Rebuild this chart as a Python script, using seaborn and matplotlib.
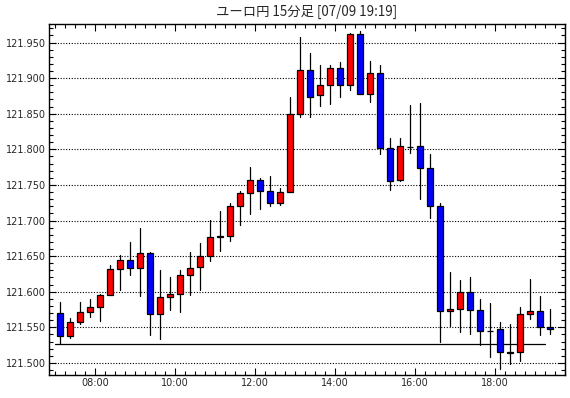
import pandas as pd
import numpy as np
import matplotlib
matplotlib.use('Agg')
import matplotlib.pyplot as plt
from matplotlib.ticker import MultipleLocator, FixedLocator, FuncFormatter
import seaborn as sns

# 15分足 ユーロ円 07:00 - 19:15
times = pd.date_range('2024-07-09 07:00', periods=50, freq='15min')

opens = [121.570, 121.538, 121.557, 121.571, 121.578, 121.595, 121.632, 121.645, 121.633, 121.655,
         121.569, 121.593, 121.597, 121.624, 121.635, 121.650, 121.677, 121.678, 121.721, 121.739,
         121.757, 121.742, 121.724, 121.740, 121.850, 121.912, 121.876, 121.891, 121.914, 121.891,
         121.962, 121.878, 121.907, 121.802, 121.757, 121.803, 121.804, 121.774, 121.721, 121.573,
         121.576, 121.600, 121.574, 121.545, 121.547, 121.514, 121.516, 121.569, 121.573, 121.550]
highs = [121.585, 121.563, 121.585, 121.590, 121.597, 121.638, 121.652, 121.670, 121.690, 121.656,
         121.631, 121.621, 121.631, 121.656, 121.669, 121.701, 121.714, 121.724, 121.742, 121.775,
         121.759, 121.763, 121.745, 121.874, 121.958, 121.935, 121.918, 121.918, 121.922, 121.964,
         121.966, 121.924, 121.918, 121.816, 121.816, 121.862, 121.865, 121.793, 121.725, 121.627,
         121.616, 121.621, 121.590, 121.584, 121.557, 121.555, 121.579, 121.618, 121.594, 121.575]
lows = [121.527, 121.535, 121.555, 121.565, 121.559, 121.595, 121.602, 121.624, 121.594, 121.539,
        121.533, 121.574, 121.571, 121.595, 121.602, 121.643, 121.657, 121.671, 121.694, 121.709,
        121.716, 121.721, 121.722, 121.740, 121.846, 121.846, 121.861, 121.864, 121.874, 121.883,
        121.878, 121.867, 121.793, 121.743, 121.755, 121.795, 121.730, 121.703, 121.529, 121.552,
        121.544, 121.540, 121.525, 121.508, 121.491, 121.498, 121.502, 121.561, 121.539, 121.541]
closes = [121.538, 121.557, 121.571, 121.578, 121.595, 121.632, 121.645, 121.633, 121.655, 121.569,
          121.593, 121.597, 121.624, 121.633, 121.650, 121.677, 121.678, 121.721, 121.739, 121.757,
          121.742, 121.724, 121.740, 121.850, 121.912, 121.874, 121.891, 121.914, 121.891, 121.962,
          121.878, 121.907, 121.802, 121.756, 121.804, 121.8035, 121.774, 121.721, 121.573, 121.576,
          121.600, 121.574, 121.545, 121.5455, 121.515, 121.516, 121.569, 121.573, 121.550, 121.547]

ref_level = 121.527  # 横線
ytick_vals = [121.500, 121.550, 121.600, 121.650, 121.700, 121.750, 121.800, 121.850, 121.900, 121.950]
xtick_hours = [8, 10, 12, 14, 16, 18]
title = 'ユーロ円 15分足 [07/09 19:19]'

df = pd.DataFrame({'time': times, 'open': opens, 'high': highs, 'low': lows, 'close': closes})
# 足の中心は区間の真ん中
df['x'] = df['time'].dt.hour + df['time'].dt.minute / 60 + 0.125
df['up'] = df['close'] >= df['open']

sns.set_theme(style='white')
plt.rcParams['font.family'] = ['Noto Sans CJK JP', 'DejaVu Sans']

fig = plt.figure(figsize=(5.7, 3.98), dpi=100)
ax = fig.add_axes([49 / 570, 1 - 375 / 398, (565 - 49) / 570, (375 - 24) / 398])

# ヒゲ
wick = pd.concat([
    df[['x', 'low']].rename(columns={'low': 'price'}).assign(id=df.index),
    df[['x', 'high']].rename(columns={'high': 'price'}).assign(id=df.index),
])
sns.lineplot(data=wick, x='x', y='price', units='id', estimator=None, sort=False,
             color='black', lw=0.9, ax=ax, legend=False, zorder=2)

# 実体
body_bottom = df[['open', 'close']].min(axis=1)
body_height = (df['close'] - df['open']).abs()
colors = np.where(df['up'], '#ff0000', '#0000ff')
ax.bar(df['x'], body_height, bottom=body_bottom, width=0.14, color=colors,
       edgecolor='black', linewidth=0.9, zorder=3)

# 基準線
ref = pd.DataFrame({'x': [df['x'].iloc[0] - 0.125, df['x'].iloc[-1] - 0.125],
                    'price': [ref_level, ref_level]})
sns.lineplot(data=ref, x='x', y='price', color='black', lw=0.9, ax=ax, zorder=2)

ax.set_xlim(6.85, 19.75)
ax.set_ylim(121.483, 121.976)

ax.yaxis.set_major_locator(FixedLocator(ytick_vals))
ax.yaxis.set_minor_locator(MultipleLocator(0.01))
ax.yaxis.set_major_formatter(FuncFormatter(lambda v, p: f'{v:.3f}'))
ax.xaxis.set_major_locator(FixedLocator(xtick_hours))
ax.xaxis.set_minor_locator(MultipleLocator(0.25))
ax.xaxis.set_major_formatter(FuncFormatter(lambda v, p: f'{int(round(v)):02d}:00'))

ax.grid(axis='y', which='major', color='black', linestyle=(0, (1, 1.5)), lw=0.8)
ax.set_axisbelow(True)
ax.tick_params(which='both', direction='in', top=True, right=True, bottom=True, left=True,
               color='black', width=0.8)
ax.tick_params(which='major', length=5, labelsize=7, pad=2)
ax.tick_params(which='minor', length=3)
for lab in ax.get_xticklabels() + ax.get_yticklabels():
    lab.set_family('DejaVu Sans')
ax.set_xlabel('')
ax.set_ylabel('')
for s in ax.spines.values():
    s.set_color('black')
    s.set_linewidth(1)

fig.text(307 / 570, 1 - 12 / 398, title, ha='center', va='center', fontsize=9.6)

fig.savefig('out.png', dpi=100, facecolor='white')
